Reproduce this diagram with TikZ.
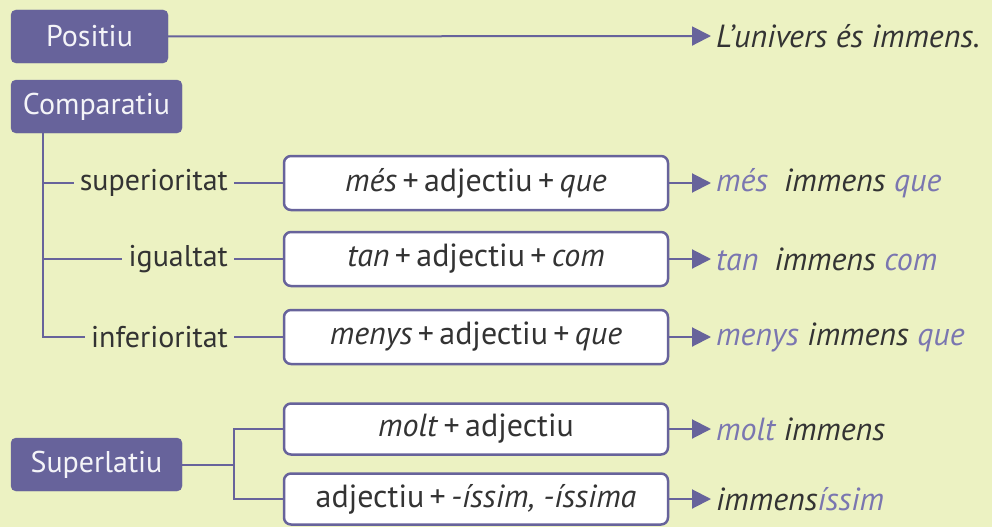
\documentclass[tikz,border=0pt]{standalone}
\usepackage{fontspec}
\setmainfont{PT Sans}
\usetikzlibrary{arrows.meta}
\definecolor{bg}{HTML}{ECF2C2}
\definecolor{pur}{HTML}{67639B}
\definecolor{lpur}{HTML}{7A76B0}
\definecolor{txt}{HTML}{333333}
\tikzset{
  x=1pt,y=-1pt,
  head/.style={draw=pur,fill=pur,rounded corners=5pt,text=white!93!pur,font=\fontsize{30}{32}\selectfont,minimum height=53pt,inner sep=0pt},
  formbox/.style={draw=pur,line width=2.5pt,fill=white,rounded corners=7pt,text=txt,font=\fontsize{32}{34}\selectfont,minimum width=384pt,inner sep=0pt},
  lab/.style={text=txt,font=\fontsize{30}{32}\selectfont,inner sep=6pt,anchor=east},
  res/.style={text=txt,font=\fontsize{32}{34}\selectfont\itshape,inner sep=0pt,anchor=west},
  conn/.style={draw=pur,line width=2pt},
  arr/.style={conn,-{Triangle[length=19pt,width=19pt]},shorten >=5pt}
}
\newcommand{\pu}[1]{\textcolor{lpur}{#1}}
\newcommand{\pl}{\,+\,}
\begin{document}
\begin{tikzpicture}
\fill[bg] (0,0) rectangle (992,527);
\useasboundingbox (0,0) rectangle (992,527);
% heads
\node[head,minimum width=157pt] (pos) at (89.5,36.5) {Positiu};
\node[head,minimum width=171pt] (comp) at (96.5,106.5) {Comparatiu};
\node[head,minimum width=171pt] (sup) at (96.5,464.5) {Superlatiu};
% positiu result
\node[res] (r0) at (716,36) {L’univers és immens.};
\draw[arr] (pos.east) -- (r0.west);
% comparative labels
\node[lab] (l1) at (234,183) {superioritat};
\node[lab] (l2) at (234,259) {igualtat};
\node[lab] (l3) at (234,337) {inferioritat};
% formula boxes
\node[formbox,minimum height=54pt] (b1) at (476,183) {\textit{més}\pl adjectiu\pl\textit{que}};
\node[formbox,minimum height=54pt] (b2) at (476,259) {\textit{tan}\pl adjectiu\pl\textit{com}};
\node[formbox,minimum height=54pt] (b3) at (476,337) {\textit{menys}\pl adjectiu\pl\textit{que}};
\node[formbox,minimum height=51pt] (b4) at (476,429) {\textit{molt}\pl adjectiu};
\node[formbox,minimum height=51pt] (b5) at (476,499) {adjectiu\pl\textit{-íssim, -íssima}};
% results
\node[res] (r1) at (716,183) {\pu{més}\hspace{0.5em}immens \pu{que}};
\node[res] (r2) at (716,259) {\pu{tan}\hspace{0.5em}immens \pu{com}};
\node[res] (r3) at (716,337) {\pu{menys} immens \pu{que}};
\node[res] (r4) at (716,429) {\pu{molt} immens};
\node[res] (r5) at (716,499) {immens\pu{íssim}};
% comparatiu tree
\coordinate (ctop) at (43,133);
\draw[conn] (ctop) |- (l3.west);
\draw[conn] (ctop |- l1) -- (l1.west);
\draw[conn] (ctop |- l2) -- (l2.west);
\draw[conn] (l1.east) -- (b1.west);
\draw[conn] (l2.east) -- (b2.west);
\draw[conn] (l3.east) -- (b3.west);
% superlatiu tree
\coordinate (sfork) at (234,464.5);
\draw[conn] (sup.east) -- (sfork);
\draw[conn] (sfork) |- (b4.west);
\draw[conn] (sfork) |- (b5.west);
% arrows
\draw[arr] (b1.east) -- (r1.west);
\draw[arr] (b2.east) -- (r2.west);
\draw[arr] (b3.east) -- (r3.west);
\draw[arr] (b4.east) -- (r4.west);
\draw[arr] (b5.east) -- (r5.west);
\end{tikzpicture}
\end{document}
